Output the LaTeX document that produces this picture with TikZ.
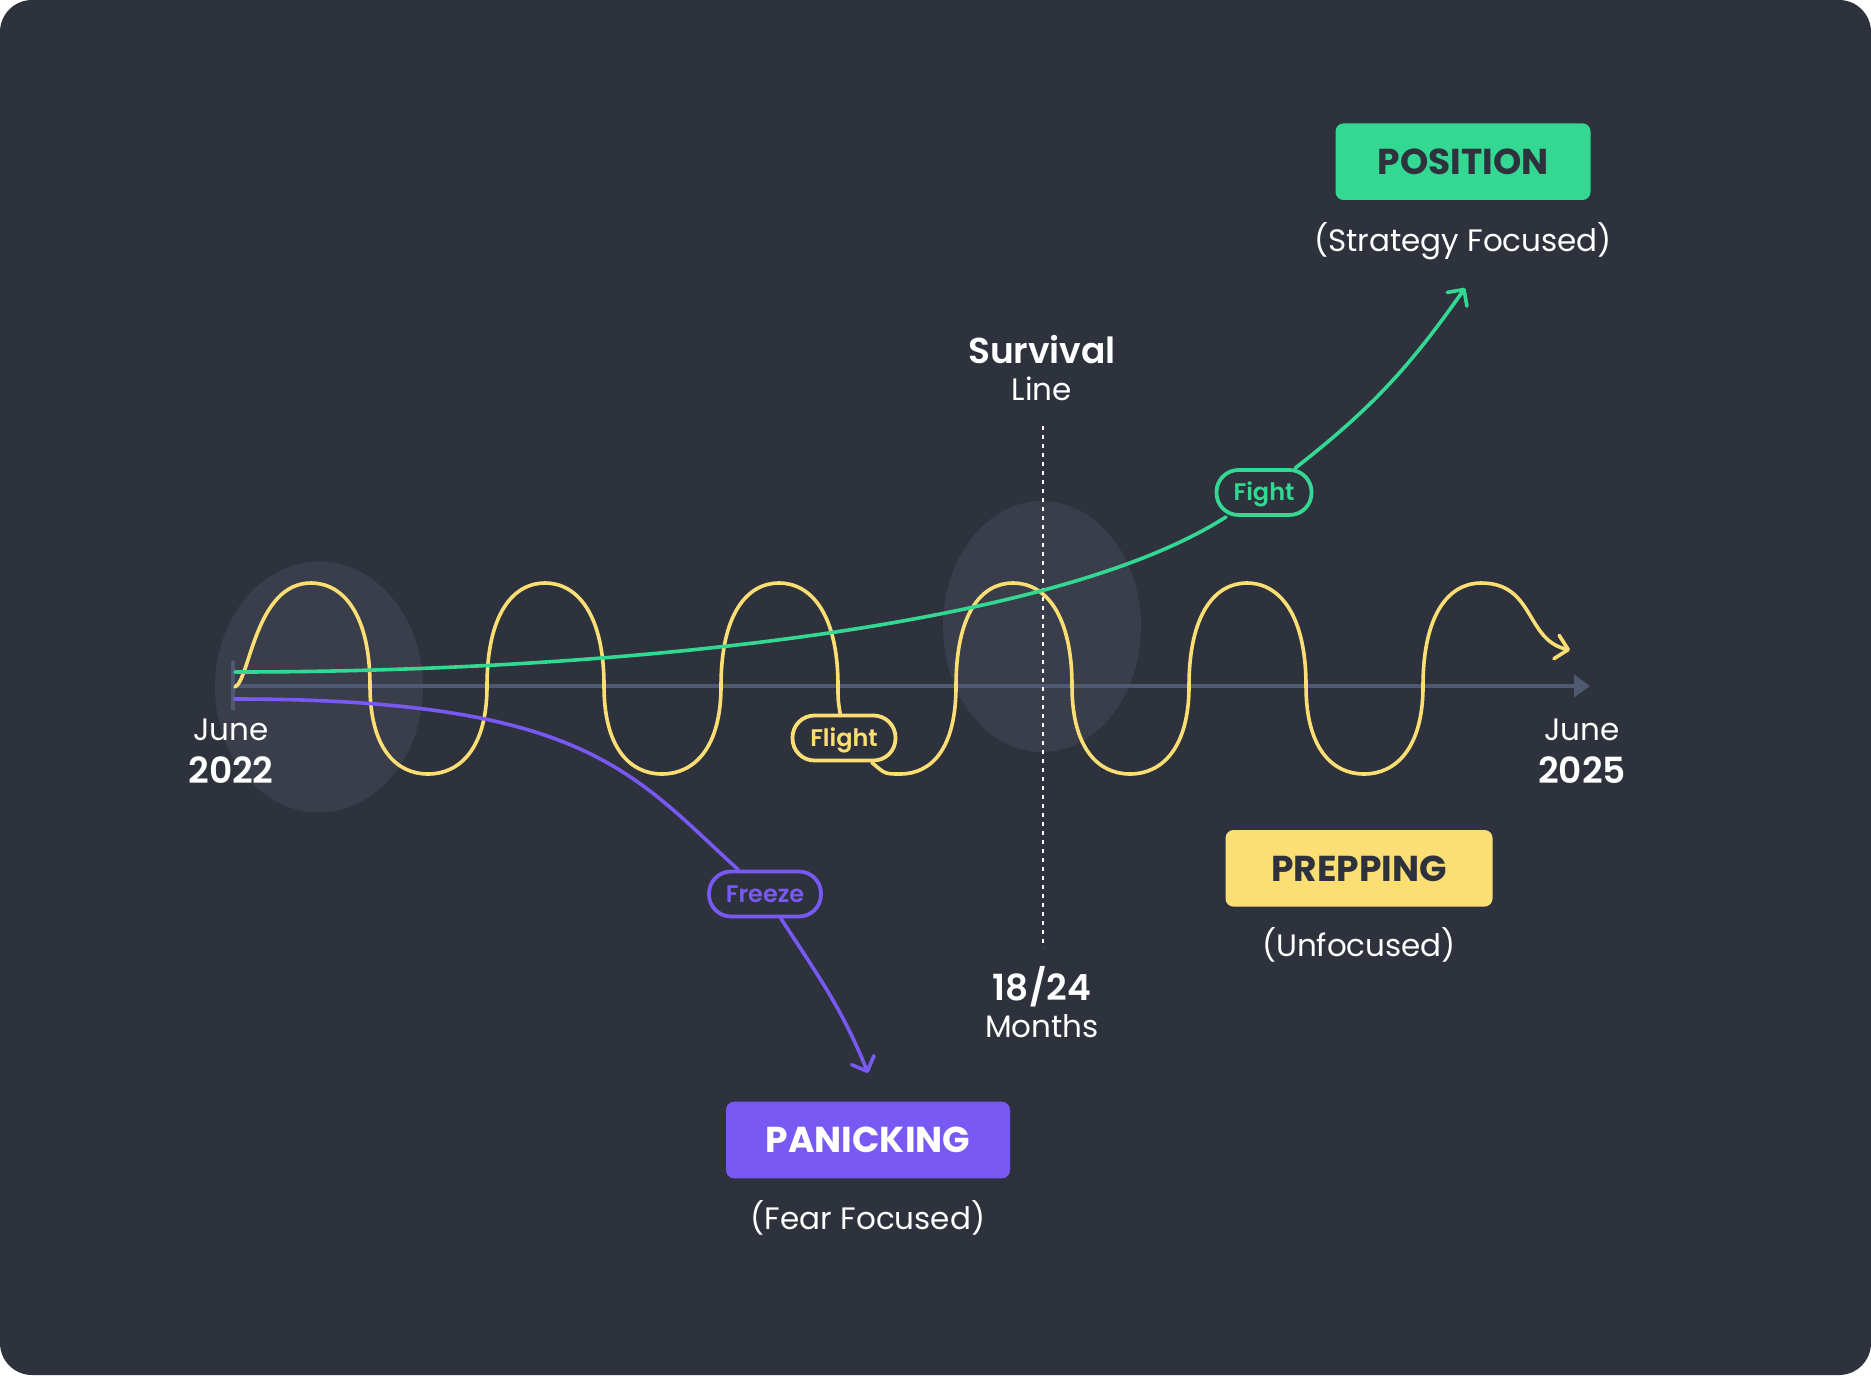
\documentclass[tikz,border=0pt]{standalone}
\usepackage{fontspec}
\setmainfont{Poppins}
\newfontfamily\semibold{Poppins SemiBold}
\usepackage{tikz}
\usetikzlibrary{arrows.meta}
\definecolor{bgdark}{HTML}{2E323D}
\definecolor{haze}{HTML}{3A3E4A}
\definecolor{axisgrey}{HTML}{4F5A72}
\definecolor{fightgreen}{HTML}{33D892}
\definecolor{flightyellow}{HTML}{FCDF74}
\definecolor{freezepurple}{HTML}{7859F4}

\begin{document}
\begin{tikzpicture}[x=0.5pt,y=-0.5pt,
    lbl/.style={text=white,font=\fontsize{15.5}{18}\selectfont,anchor=base,inner sep=0pt},
    lblbold/.style={text=white,font=\fontsize{18}{21}\semibold,anchor=base,inner sep=0pt},
    tagbox/.style={fill=#1,rounded corners=4pt,minimum height=38.3pt,text=bgdark,font=\fontsize{18}{21}\selectfont\bfseries},
    pill/.style={draw=#1,text=#1,fill=bgdark,line width=1.9pt,rounded corners=11pt,minimum height=22.5pt,text height=8.4pt,text depth=0pt,font=\fontsize{12}{14}\semibold},
    trail/.style={line width=1.8pt,line cap=round,line join=round},
    barb/.style={-{Straight Barb[length=6pt,width=12pt,round]}}]
  \fill[bgdark,rounded corners=16pt] (0,0) rectangle (1871,1375);
  \fill[haze] (319,687) ellipse [x radius=52pt,y radius=62.75pt];
  \fill[haze] (1042,626.5) ellipse [x radius=49.5pt,y radius=62.75pt];

  \coordinate (axisstart) at (233,686);
  \coordinate (axisend) at (1590,686);
  \draw[axisgrey,line width=1.7pt,-{Triangle[length=8pt,width=11pt]}] (axisstart) -- (axisend);
  \draw[axisgrey,line width=1.6pt,line cap=round] (axisstart) ++(0,-24) -- ++(0,47);

  \node[lbl] (junestart) at (231,740) {June};
  \node[lblbold] (yearstart) at (231,783) {2022};
  \node[lbl] (juneend) at (1582,740) {June};
  \node[lblbold] (yearend) at (1582,783) {2025};
  \node[lblbold] (survival) at (1042,363) {Survival};
  \node[lbl] (survline) at (1042,400) {Line};
  \node[lblbold] (monthsnum) at (1042,1000) {18/24};
  \node[lbl] (monthsword) at (1042,1037) {Months};

  \coordinate (wavestart) at (235,687);
  \node[pill=flightyellow,minimum width=51.5pt] (flight) at (844,738) {Flight};
  \coordinate (waveend) at (1570,650);
  \draw[trail,flightyellow] (wavestart) .. controls (250,680) and (255,583) .. (311,583)
    \foreach \p in {311,545} {
      .. controls (\p+32,583) and (\p+59,614) .. (\p+59,686)
      .. controls (\p+59,748) and (\p+85,774) .. (\p+117,774)
      .. controls (\p+149,774) and (\p+176,748) .. (\p+176,686)
      .. controls (\p+176,614) and (\p+202,583) .. (\p+234,583)
    }
    .. controls (811,583) and (838,614) .. (838,686)
    .. controls (838,700) .. (flight);
  \draw[trail,flightyellow,barb] (flight) .. controls (885,774) .. (900,774)
    .. controls (932,774) and (956,748) .. (956,686)
    .. controls (956,614) and (981,583) .. (1013,583)
    \foreach \p in {1013,1247} {
      .. controls (\p+32,583) and (\p+59,614) .. (\p+59,686)
      .. controls (\p+59,748) and (\p+85,774) .. (\p+117,774)
      .. controls (\p+149,774) and (\p+176,748) .. (\p+176,686)
      .. controls (\p+176,614) and (\p+202,583) .. (\p+234,583)
    }
    .. controls (1535,583) and (1525,640) .. (waveend);

  \coordinate (survtop) at (1043,426);
  \coordinate (survbottom) at (1043,948);
  \draw[white,line width=1.1pt,dash pattern=on 2.2pt off 2.3pt] (survtop) -- (survbottom);

  \coordinate (greenstart) at (235,672);
  \node[pill=fightgreen,minimum width=47.5pt] (fight) at (1264,492.5) {Fight};
  \coordinate (greenend) at (1465,288);
  \draw[trail,fightgreen] (greenstart) .. controls (600,672) and (1050,630) .. (fight);
  \draw[trail,fightgreen,barb] (fight) to[out=38,in=235] (greenend);

  \coordinate (purplestart) at (235,699);
  \node[pill=freezepurple,minimum width=56pt] (freeze) at (765,894) {Freeze};
  \coordinate (purpleend) at (868,1073);
  \draw[trail,freezepurple] (purplestart) .. controls (585,699) and (632,773) .. (freeze);
  \draw[trail,freezepurple,barb] (freeze) to[out=-57,in=112] (purpleend);

  \node[tagbox=fightgreen,minimum width=127.5pt] (position) at (1463,161.7) {POSITION};
  \node[lbl] (positionnote) at (1463,251.7) {(Strategy Focused)};
  \node[tagbox=flightyellow,minimum width=133.5pt] (prepping) at (1359,868.3) {PREPPING};
  \node[lbl] (preppingnote) at (1359,956.7) {(Unfocused)};
  \node[tagbox=freezepurple,minimum width=142pt,text=white] (panicking) at (868,1140) {PANICKING};
  \node[lbl] (panickingnote) at (868,1229.3) {(Fear Focused)};
\end{tikzpicture}
\end{document}
